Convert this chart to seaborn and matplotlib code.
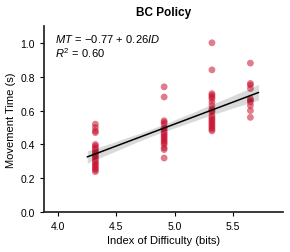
"""BC Policy: movement time vs index of difficulty."""

import matplotlib

matplotlib.use("Agg")
import matplotlib.pyplot as plt
import pandas as pd
import seaborn as sns

# index of difficulty of each target condition (bits)
id_levels = [4.32, 4.91, 5.32, 5.65]

mt_id1 = [0.52, 0.50, 0.48, 0.47, 0.40, 0.39, 0.38, 0.37, 0.36, 0.35, 0.34,
          0.33, 0.32, 0.31, 0.30, 0.29, 0.28, 0.27, 0.26, 0.25, 0.24]
mt_id2 = [0.74, 0.68, 0.54, 0.53, 0.52, 0.50, 0.49, 0.48, 0.47, 0.46, 0.45,
          0.44, 0.43, 0.42, 0.41, 0.40, 0.38, 0.37, 0.32]
mt_id3 = [1.00, 0.84, 0.70, 0.69, 0.68, 0.67, 0.65, 0.63, 0.61, 0.60, 0.59,
          0.57, 0.56, 0.55, 0.54, 0.53, 0.52, 0.51, 0.50, 0.49, 0.48]
mt_id4 = [0.88, 0.76, 0.75, 0.73, 0.67, 0.66, 0.65, 0.63, 0.60, 0.56]

fit_label = (r"$MT\/=\/\mathrm{-0.77}\/+\/\mathrm{0.26}\mathit{ID}$" + "\n"
             + r"$R^2\/=\/\mathrm{0.60}$")
fit_range = (4.25, 5.72)
x_ticks = [4.0, 4.5, 5.0, 5.5]
y_ticks = [0.0, 0.2, 0.4, 0.6, 0.8, 1.0]

rows = []
for level, values in zip(id_levels, [mt_id1, mt_id2, mt_id3, mt_id4]):
    rows += [{"ID": level, "MT": v} for v in values]
df = pd.DataFrame(rows)

sns.set_theme(style="ticks")
plt.rcParams["font.family"] = ["Liberation Sans", "DejaVu Sans"]
plt.rcParams["mathtext.fontset"] = "custom"
plt.rcParams["mathtext.rm"] = "Liberation Sans"
plt.rcParams["mathtext.it"] = "Liberation Sans:italic"
plt.rcParams["text.color"] = "black"
plt.rcParams["axes.labelcolor"] = "black"
plt.rcParams["xtick.color"] = "black"
plt.rcParams["ytick.color"] = "black"
plt.rcParams["axes.edgecolor"] = "#222222"

fig = plt.figure(figsize=(2.9, 2.53), dpi=100)
ax = fig.add_axes([0.152, 0.157, 0.824, 0.737])

sns.scatterplot(data=df, x="ID", y="MT", ax=ax, color="#C8102E", alpha=0.55,
                s=24, edgecolor="none")

# fit line spans a fixed range, so draw it against a temporary x-range
ax.set_xlim(*fit_range)
sns.regplot(data=df, x="ID", y="MT", ax=ax, scatter=False, truncate=False,
            seed=0, line_kws={"color": "black", "linewidth": 1.1})

ax.set_xlim(3.88, 5.93)
ax.set_ylim(0, 1.1)
ax.set_xticks(x_ticks)
ax.set_yticks(y_ticks)
ax.tick_params(labelsize=7.5, length=3, width=0.8)
ax.set_xlabel("Index of Difficulty (bits)", fontsize=8, labelpad=3)
ax.set_ylabel("Movement Time (s)", fontsize=8, labelpad=3)
ax.set_title("BC Policy", fontsize=8.5, fontweight="bold", pad=8)
ax.text(0.046, 0.965, fit_label, transform=ax.transAxes, fontsize=8,
        va="top", ha="left", linespacing=1.05)
sns.despine(ax=ax)

fig.savefig("out.png", dpi=100)
